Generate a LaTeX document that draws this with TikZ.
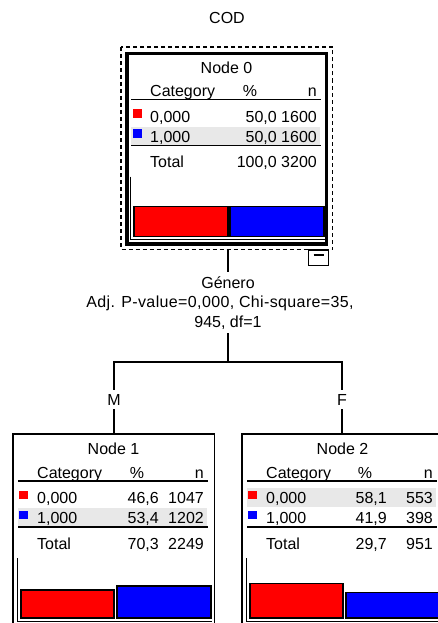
\documentclass[tikz,border=0pt]{standalone}
\usepackage{fontspec}
\setmainfont{Liberation Sans}
\definecolor{rowgrey}{gray}{0.91}
\definecolor{catred}{RGB}{255,0,0}
\definecolor{catblue}{RGB}{0,0,255}
\begin{document}
\begin{tikzpicture}[x=1pt,y=-1pt,
  font=\fontsize{16}{19}\selectfont,
  txt/.style={inner sep=0pt, anchor=base west},
  txtr/.style={inner sep=0pt, anchor=base east},
  txtc/.style={inner sep=0pt, anchor=base},
  lbl/.style={inner sep=4pt, anchor=base},
  conn/.style={line width=1.5pt},
  rulel/.style={line width=1.5pt},
  axisl/.style={line width=1pt},
  barl/.style={line width=1.2pt, draw=black},
  boxthin/.style={draw, line width=1.5pt, outer sep=0pt, inner sep=0pt, anchor=north west, minimum width=201.5pt, minimum height=192.5pt},
  boxthick/.style={draw, line width=3.5pt, outer sep=0pt, inner sep=0pt, anchor=north west, minimum width=199.5pt, minimum height=190.5pt},
  focus/.style={line width=1.5pt, dash pattern=on 4pt off 3pt}]
\clip (0,0) rectangle (438,623);
\fill[white] (0,0) rectangle (438,623);

% title
\node[txtc] (title) at (227,23.5) {COD};

% ---------------- Node 0 ----------------
\draw[focus] (121,47) rectangle (332.5,249.5);
\begin{scope}[shift={(125,51.7)}]
  \node[boxthick] (n0box) at (1.75,1.75) {};
  \fill[rowgrey] (6,75) rectangle (195,93);
  \draw[rulel] (6,48) -- (196,48);
  \draw[rulel] (6,94) -- (196,94);
  \node[txtc] (n0title) at (101.5,21.5) {Node 0};
  \node[txt] (n0cat) at (25,45) {Category};
  \node[txtc] (n0pcth) at (125,45) {\%};
  \node[txtr] (n0nh) at (192,45) {n};
  \fill[catred] (7.5,57.5) rectangle (16.5,66);
  \node[txt] (n0c0) at (25,70.5) {0,000};
  \node[txtr] (n0p0) at (152,70.5) {50,0};
  \node[txtr] (n0k0) at (192,70.5) {1600};
  \fill[catblue] (7.5,77.5) rectangle (16.5,86);
  \node[txt] (n0c1) at (25,90.5) {1,000};
  \node[txtr] (n0p1) at (152,90.5) {50,0};
  \node[txtr] (n0k1) at (192,90.5) {1600};
  \node[txt] (n0tot) at (25,116) {Total};
  \node[txtr] (n0ptot) at (152,116) {100,0};
  \node[txtr] (n0ktot) at (192,116) {3200};
  \draw[axisl] (5,125) -- (5,188) -- (200,188);
  \draw[barl, fill=catred] (9,185) rectangle (103,{185-0.6*50.0});
  \draw[barl, fill=catblue] (105,185) rectangle (199,{185-0.6*50.0});
\end{scope}
% collapse icon
\draw[line width=1.5pt, fill=white] (308.5,250) rectangle (328.5,265.5);
\draw[line width=1.5pt] (313.5,255) -- (324,255);

% ---------------- split label ----------------
\node[lbl] (lab1) at (228,288) {Género};
\node[lbl, font=\fontsize{16}{19}\selectfont\addfontfeature{LetterSpace=2.3}] (lab2) at (220,307.5) {Adj. P-value=0,000, Chi-square=35,};
\node[lbl] (lab3) at (228,327) {945, df=1};
\coordinate (junc) at (228,362);
\node[lbl] (lblM) at (114,405) {M};
\node[lbl] (lblF) at (342,405) {F};

% ---------------- Node 1 ----------------
\begin{scope}[shift={(12,433)}]
  \node[boxthin] (n1box) at (0.75,0.75) {};
  \fill[rowgrey] (6,75) rectangle (195,93);
  \draw[rulel] (6,48) -- (196,48);
  \draw[rulel] (6,94) -- (196,94);
  \node[txtc] (n1title) at (101.5,21.5) {Node 1};
  \node[txt] (n1cat) at (25,45) {Category};
  \node[txtc] (n1pcth) at (125,45) {\%};
  \node[txtr] (n1nh) at (192,45) {n};
  \fill[catred] (7,57.5) rectangle (16,66);
  \node[txt] (n1c0) at (25,70.5) {0,000};
  \node[txtr] (n1p0) at (147,70.5) {46,6};
  \node[txtr] (n1k0) at (192,70.5) {1047};
  \fill[catblue] (7,77.5) rectangle (16,86);
  \node[txt] (n1c1) at (25,90.5) {1,000};
  \node[txtr] (n1p1) at (147,90.5) {53,4};
  \node[txtr] (n1k1) at (192,90.5) {1202};
  \node[txt] (n1tot) at (25,116) {Total};
  \node[txtr] (n1ptot) at (147,116) {70,3};
  \node[txtr] (n1ktot) at (192,116) {2249};
  \draw[axisl] (5,125) -- (5,188) -- (200,188);
  \draw[barl, fill=catred] (9,185) rectangle (102,{185-0.6*46.6});
  \draw[barl, fill=catblue] (105,185) rectangle (199,{185-0.6*53.4});
\end{scope}

% ---------------- Node 2 ----------------
\begin{scope}[shift={(241,433)}]
  \node[boxthin] (n2box) at (0.75,0.75) {};
  \fill[rowgrey] (6,55) rectangle (195,73.5);
  \draw[rulel] (6,48) -- (196,48);
  \draw[rulel] (6,94) -- (196,94);
  \node[txtc] (n2title) at (101.5,21.5) {Node 2};
  \node[txt] (n2cat) at (25,45) {Category};
  \node[txtc] (n2pcth) at (124,45) {\%};
  \node[txtr] (n2nh) at (192,45) {n};
  \fill[catred] (7,57.5) rectangle (16,66);
  \node[txt] (n2c0) at (25,70.5) {0,000};
  \node[txtr] (n2p0) at (146,70.5) {58,1};
  \node[txtr] (n2k0) at (192,70.5) {553};
  \fill[catblue] (7,77.5) rectangle (16,86);
  \node[txt] (n2c1) at (25,90.5) {1,000};
  \node[txtr] (n2p1) at (146,90.5) {41,9};
  \node[txtr] (n2k1) at (192,90.5) {398};
  \node[txt] (n2tot) at (25,116) {Total};
  \node[txtr] (n2ptot) at (146,116) {29,7};
  \node[txtr] (n2ktot) at (192,116) {951};
  \draw[axisl] (5,125) -- (5,188) -- (200,188);
  \draw[barl, fill=catred] (9,185) rectangle (102,{185-0.6*58.1});
  \draw[barl, fill=catblue] (105,185) rectangle (199,{185-0.6*41.9});
\end{scope}

% ---------------- connectors ----------------
\draw[conn] (lab1.north |- 0,250) -- (lab1.north);
\draw[conn] (lab3.south) -- (junc);
\draw[conn] (lblM.north) -- (lblM.north |- junc) -- (lblF.north |- junc) -- (lblF.north);
\draw[conn] (lblM.south) -- (lblM.south |- n1box.north);
\draw[conn] (lblF.south) -- (lblF.south |- n2box.north);
\end{tikzpicture}
\end{document}
